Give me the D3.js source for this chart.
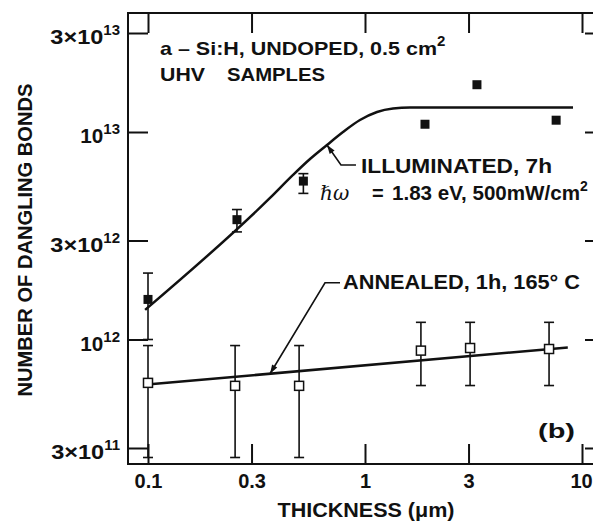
<!DOCTYPE html>
<html>
<head>
<meta charset="utf-8">
<script src="https://cdn.jsdelivr.net/npm/d3@7"></script>
<style>
  body { margin: 0; background: #fff; }
  svg text { font-family: "Liberation Sans", Arial, sans-serif; font-weight: bold; fill: #111; }
</style>
</head>
<body>
<div id="chart"></div>
<script>
// illuminated samples (filled squares)
const illumThickness = [0.1, 0.257, 0.52, 1.89, 3.28, 7.6];
const illumBonds     = [1.56e12, 3.78e12, 5.8e12, 1.09e13, 1.69e13, 1.14e13];
const illumErrLow    = [1.0e12, 3.3e12, 5.06e12, null, null, null];
const illumErrHigh   = [2.09e12, 4.23e12, 6.3e12, null, null, null];

// annealed samples (open squares)
const annealThickness = [0.1, 0.252, 0.497, 1.81, 3.05, 7.05];
const annealBonds     = [6.18e11, 5.98e11, 5.98e11, 8.84e11, 9.1e11, 9.0e11];
const annealErrLow    = [2.7e11, 2.7e11, 2.7e11, 6.0e11, 6.0e11, 6.0e11];
const annealErrHigh   = [9.35e11, 9.35e11, 9.35e11, 1.21e12, 1.21e12, 1.21e12];

// drawn curves
const illumFitThickness = [0.097, 0.365, 0.466, 0.558, 0.668, 0.792, 0.948, 1.136, 1.346, 1.612, 9.09];
const illumFitBonds     = [1.39e12, 4.81e12, 6.21e12, 7.41e12, 8.66e12, 1.0e13, 1.142e13, 1.249e13, 1.298e13, 1.3125e13, 1.3125e13];
const annealFitThickness = [0.096, 8.6];
const annealFitBonds     = [6.05e11, 9.15e11];

// where the label arrows touch the curves
const illumArrowAt  = [0.668, 8.66e12];
const annealArrowAt = [0.365, 6.84e11];

// ticks
const xTicks = [0.1, 0.3, 1, 3, 10];
const xTickLabels = ["0.1", "0.3", "1", "3", "10"];
const yTicks = [3e11, 1e12, 3e12, 1e13, 3e13];
const yTickMant = ["3\u00d7", "", "3\u00d7", "", "3\u00d7"];
const yTickExp = ["11", "12", "12", "13", "13"];

const margin = {top: 13, left: 128};
const w = 477, h = 451;
const ink = "#111";

const root = d3.select("#chart").append("svg")
    .attr("width", 593)
    .attr("height", 521);

const svg = root.append("g")
    .attr("transform", "translate(" + margin.left + "," + margin.top + ")");

const x = d3.scaleLog().domain([0.1, 10]).range([20, 454]);
const y = d3.scaleLog().domain([3e11, 3e13]).range([435, 20]);

// frame
svg.append("rect")
    .attr("width", w).attr("height", h)
    .attr("fill", "none").attr("stroke", ink).attr("stroke-width", 2);

// inward ticks on all four sides
function tickStyle(g) {
    g.select(".domain").remove();
    g.selectAll(".tick line").attr("stroke", ink).attr("stroke-width", 2);
}
svg.append("g").call(d3.axisLeft(y).tickValues(yTicks).tickSize(-20).tickFormat("")).call(tickStyle);
svg.append("g").attr("transform", `translate(${w},0)`)
    .call(d3.axisRight(y).tickValues(yTicks).tickSize(-20).tickFormat("")).call(tickStyle);
svg.append("g").call(d3.axisTop(x).tickValues(xTicks).tickSize(-20).tickFormat("")).call(tickStyle);

const xAxisDisplay = svg.append("g")
    .attr("transform", `translate(0,${h})`)
    .call(d3.axisBottom(x).tickValues(xTicks).tickSize(-20).tickPadding(10)
        .tickFormat((d, i) => xTickLabels[i]))
    .call(tickStyle);
xAxisDisplay.selectAll("text")
    .style("font-size", "20px")
    .attr("fill", ink);
// keep the last label inside the page
xAxisDisplay.selectAll(".tick text").filter(d => d === 10).attr("dx", -1);

// y tick labels with superscript exponents
const yLab = svg.selectAll(".ylab")
    .data(yTicks)
    .enter().append("text")
    .attr("class", "ylab")
    .attr("x", -8)
    .attr("y", d => y(d) + 11)
    .attr("text-anchor", "end")
    .style("font-size", "20px");
yLab.append("tspan")
    .attr("textLength", (d, i) => yTickMant[i] ? 53 : 23)
    .attr("lengthAdjust", "spacingAndGlyphs")
    .text((d, i) => yTickMant[i] + "10");
yLab.append("tspan").attr("dy", -9).style("font-size", "15px").text((d, i) => yTickExp[i]);

// axis titles
root.append("text")
    .attr("transform", "translate(32,240) rotate(-90)")
    .attr("text-anchor", "middle")
    .attr("textLength", 313)
    .attr("lengthAdjust", "spacingAndGlyphs")
    .style("font-size", "20px")
    .text("NUMBER OF DANGLING BONDS");

root.append("text")
    .attr("x", 366).attr("y", 517)
    .attr("text-anchor", "middle")
    .attr("textLength", 177)
    .attr("lengthAdjust", "spacingAndGlyphs")
    .style("font-size", "21px")
    .text("THICKNESS (\u03bcm)");

// curves
const line = d3.line()
    .x(d => x(d[0]))
    .y(d => y(d[1]))
    .curve(d3.curveMonotoneX);

svg.append("path")
    .datum(illumFitThickness.map((t, i) => [t, illumFitBonds[i]]))
    .attr("d", line)
    .attr("fill", "none").attr("stroke", ink).attr("stroke-width", 2.5);

svg.append("path")
    .datum(annealFitThickness.map((t, i) => [t, annealFitBonds[i]]))
    .attr("d", line)
    .attr("fill", "none").attr("stroke", ink).attr("stroke-width", 2.5);

// error bars
function errorBars(ts, lo, hi) {
    const rows = ts.map((t, i) => ({t, lo: lo[i], hi: hi[i]})).filter(d => d.lo != null);
    const g = svg.append("g").attr("stroke", ink).attr("stroke-width", 1.6);
    g.selectAll(".eb").data(rows).enter().append("line")
        .attr("x1", d => x(d.t)).attr("x2", d => x(d.t))
        .attr("y1", d => y(d.lo)).attr("y2", d => y(d.hi));
    g.selectAll(".cap-lo").data(rows).enter().append("line")
        .attr("x1", d => x(d.t) - 5).attr("x2", d => x(d.t) + 5)
        .attr("y1", d => y(d.lo)).attr("y2", d => y(d.lo));
    g.selectAll(".cap-hi").data(rows).enter().append("line")
        .attr("x1", d => x(d.t) - 5).attr("x2", d => x(d.t) + 5)
        .attr("y1", d => y(d.hi)).attr("y2", d => y(d.hi));
}
errorBars(illumThickness, illumErrLow, illumErrHigh);
errorBars(annealThickness, annealErrLow, annealErrHigh);

// markers
svg.selectAll(".filled")
    .data(illumThickness)
    .enter().append("rect")
    .attr("class", "filled")
    .attr("x", d => x(d) - 4.5)
    .attr("y", (d, i) => y(illumBonds[i]) - 4.5)
    .attr("width", 9).attr("height", 9)
    .attr("fill", ink);

svg.selectAll(".open")
    .data(annealThickness)
    .enter().append("rect")
    .attr("class", "open")
    .attr("x", d => x(d) - 4.5)
    .attr("y", (d, i) => y(annealBonds[i]) - 4.5)
    .attr("width", 9).attr("height", 9)
    .attr("fill", "#fff").attr("stroke", ink).attr("stroke-width", 1.5);

// label leaders with arrowheads
function leader(at, elbow, end) {
    const tx = x(at[0]), ty = y(at[1]);
    svg.append("path")
        .attr("d", `M${tx},${ty} L${tx + elbow[0]},${ty + elbow[1]} L${tx + end[0]},${ty + end[1]}`)
        .attr("fill", "none").attr("stroke", ink).attr("stroke-width", 1.6);
    const ang = Math.atan2(elbow[1], elbow[0]);
    const L = 9, W = 3;
    const p = [[tx, ty],
        [tx + L * Math.cos(ang) - W * Math.sin(ang), ty + L * Math.sin(ang) + W * Math.cos(ang)],
        [tx + L * Math.cos(ang) + W * Math.sin(ang), ty + L * Math.sin(ang) - W * Math.cos(ang)]];
    svg.append("path").attr("d", "M" + p.join("L") + "Z").attr("fill", ink);
}
leader(illumArrowAt, [14, 20], [29, 20]);
leader(annealArrowAt, [55, -91], [70, -91]);

// annotations
const t1 = root.append("text").attr("x", 160).attr("y", 55).style("font-size", "19px");
t1.append("tspan").attr("textLength", 277).attr("lengthAdjust", "spacingAndGlyphs")
    .text("a \u2013 Si:H, UNDOPED, 0.5 cm");
t1.append("tspan").attr("dy", -9).style("font-size", "15px").text("2");

const t2 = root.append("text").attr("y", 81).style("font-size", "19px");
t2.append("tspan").attr("x", 160).attr("textLength", 45).attr("lengthAdjust", "spacingAndGlyphs").text("UHV");
t2.append("tspan").attr("x", 227).attr("textLength", 98).attr("lengthAdjust", "spacingAndGlyphs").text("SAMPLES");

root.append("text").attr("x", 361).attr("y", 173).style("font-size", "20px")
    .attr("textLength", 191).attr("lengthAdjust", "spacingAndGlyphs")
    .text("ILLUMINATED, 7h");

const t3 = root.append("text").attr("y", 200).style("font-size", "20px");
t3.append("tspan").attr("x", 320)
    .style("font-family", "'DejaVu Serif', serif").style("font-style", "italic").style("font-weight", "normal")
    .text("\u210f\u03c9");
t3.append("tspan").attr("x", 372).text("=");
t3.append("tspan").attr("x", 392).attr("textLength", 188).attr("lengthAdjust", "spacingAndGlyphs")
    .text("1.83 eV, 500mW/cm");
t3.append("tspan").attr("dy", -9).style("font-size", "14px").text("2");

root.append("text").attr("x", 343).attr("y", 289).style("font-size", "20px")
    .attr("textLength", 237).attr("lengthAdjust", "spacingAndGlyphs")
    .text("ANNEALED, 1h, 165\u00b0 C");

root.append("text").attr("x", 538).attr("y", 438).style("font-size", "20px")
    .attr("textLength", 37).attr("lengthAdjust", "spacingAndGlyphs")
    .text("(b)");
</script>
</body>
</html>
